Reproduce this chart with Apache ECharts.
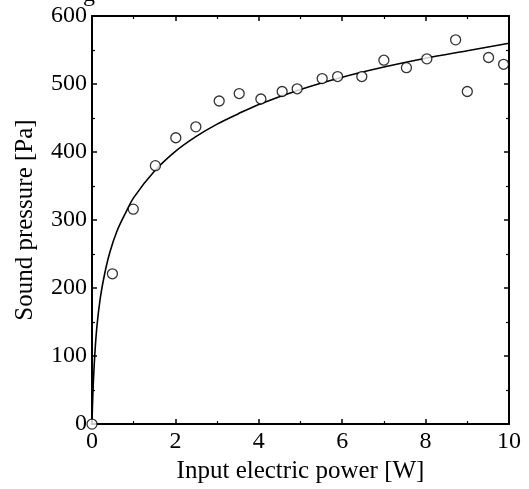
<!DOCTYPE html>
<html>
<head>
<meta charset="utf-8">
<script src="https://cdn.jsdelivr.net/npm/echarts@6/dist/echarts.min.js"></script>
<style>
  html, body { margin: 0; padding: 0; background: #fff; }
  #chart { width: 529px; height: 489px; }
</style>
</head>
<body>
<div id="chart"></div>
<script>
  // measured points (input power W, sound pressure Pa)
  const powerW = [0, 0.49, 0.99, 1.52, 2.01, 2.49, 3.05, 3.53, 4.05, 4.56, 4.92, 5.52, 5.89, 6.47, 7.0, 7.54, 8.03, 8.72, 9.0, 9.51, 9.87];
  const pressurePa = [0, 221, 316, 380, 421, 437, 475, 486, 478, 489, 493, 508, 511, 511, 535, 524, 537, 565, 489, 539, 529];

  // fitted curve
  const fitX = [0, 0.01, 0.03, 0.07, 0.12, 0.2, 0.3, 0.43, 0.6, 0.8, 1, 1.5, 2, 2.5, 3, 3.5, 4, 5, 6, 7, 8, 9, 10];
  const fitY = [0, 24, 58, 105, 145, 186, 220, 253, 284, 310, 333, 372, 401, 423, 441, 456, 470, 492, 510, 525, 538, 549, 560];

  const font = 'Liberation Serif';
  const chart = echarts.init(document.getElementById('chart'));

  const frame = (pos, isX) => ({
    type: 'value',
    position: pos,
    min: 0,
    max: isX ? 10 : 600,
    interval: isX ? 2 : 100,
    axisLine: { show: true, onZero: false, lineStyle: { color: '#000', width: 2 } },
    axisTick: { show: true, inside: true, length: 5, lineStyle: { color: '#000', width: 1.5 } },
    minorTick: { show: true, splitNumber: 2, length: 3, lineStyle: { color: '#000', width: 1.2 } },
    axisLabel: { show: false },
    splitLine: { show: false },
  });

  const option = {
    animation: false,
    backgroundColor: '#fff',
    grid: { left: 92, right: 20, top: 16, bottom: 56 },
    graphic: [
      { type: 'text', left: 83, top: -17, style: { text: 'g', font: '24px "Liberation Serif"', fill: '#000' } },
    ],
    xAxis: [
      Object.assign(frame('bottom', true), {
        name: 'Input electric power [W]',
        nameLocation: 'middle',
        nameGap: 34,
        nameTextStyle: { fontFamily: font, fontSize: 25, color: '#000' },
        axisLabel: { show: true, margin: 6, fontFamily: font, fontSize: 24, color: '#000' },
      }),
      frame('top', true),
    ],
    yAxis: [
      Object.assign(frame('left', false), {
        name: 'Sound pressure [Pa]',
        nameLocation: 'middle',
        nameGap: 54,
        nameTextStyle: { fontFamily: font, fontSize: 25, color: '#000' },
        axisLabel: { show: true, margin: 5, fontFamily: font, fontSize: 24, color: '#000' },
      }),
      frame('right', false),
    ],
    series: [
      {
        name: 'fit',
        type: 'line',
        data: fitX.map((x, i) => [x, fitY[i]]),
        smooth: 0.3,
        showSymbol: false,
        lineStyle: { color: '#000', width: 1.6 },
        z: 2,
      },
      {
        name: 'measured',
        type: 'scatter',
        data: powerW.map((x, i) => [x, pressurePa[i]]),
        symbol: 'circle',
        symbolSize: 10,
        itemStyle: { color: '#fff', borderColor: '#000', borderWidth: 1.3 },
        z: 3,
      },
    ],
  };
  chart.setOption(option);
</script>
</body>
</html>
